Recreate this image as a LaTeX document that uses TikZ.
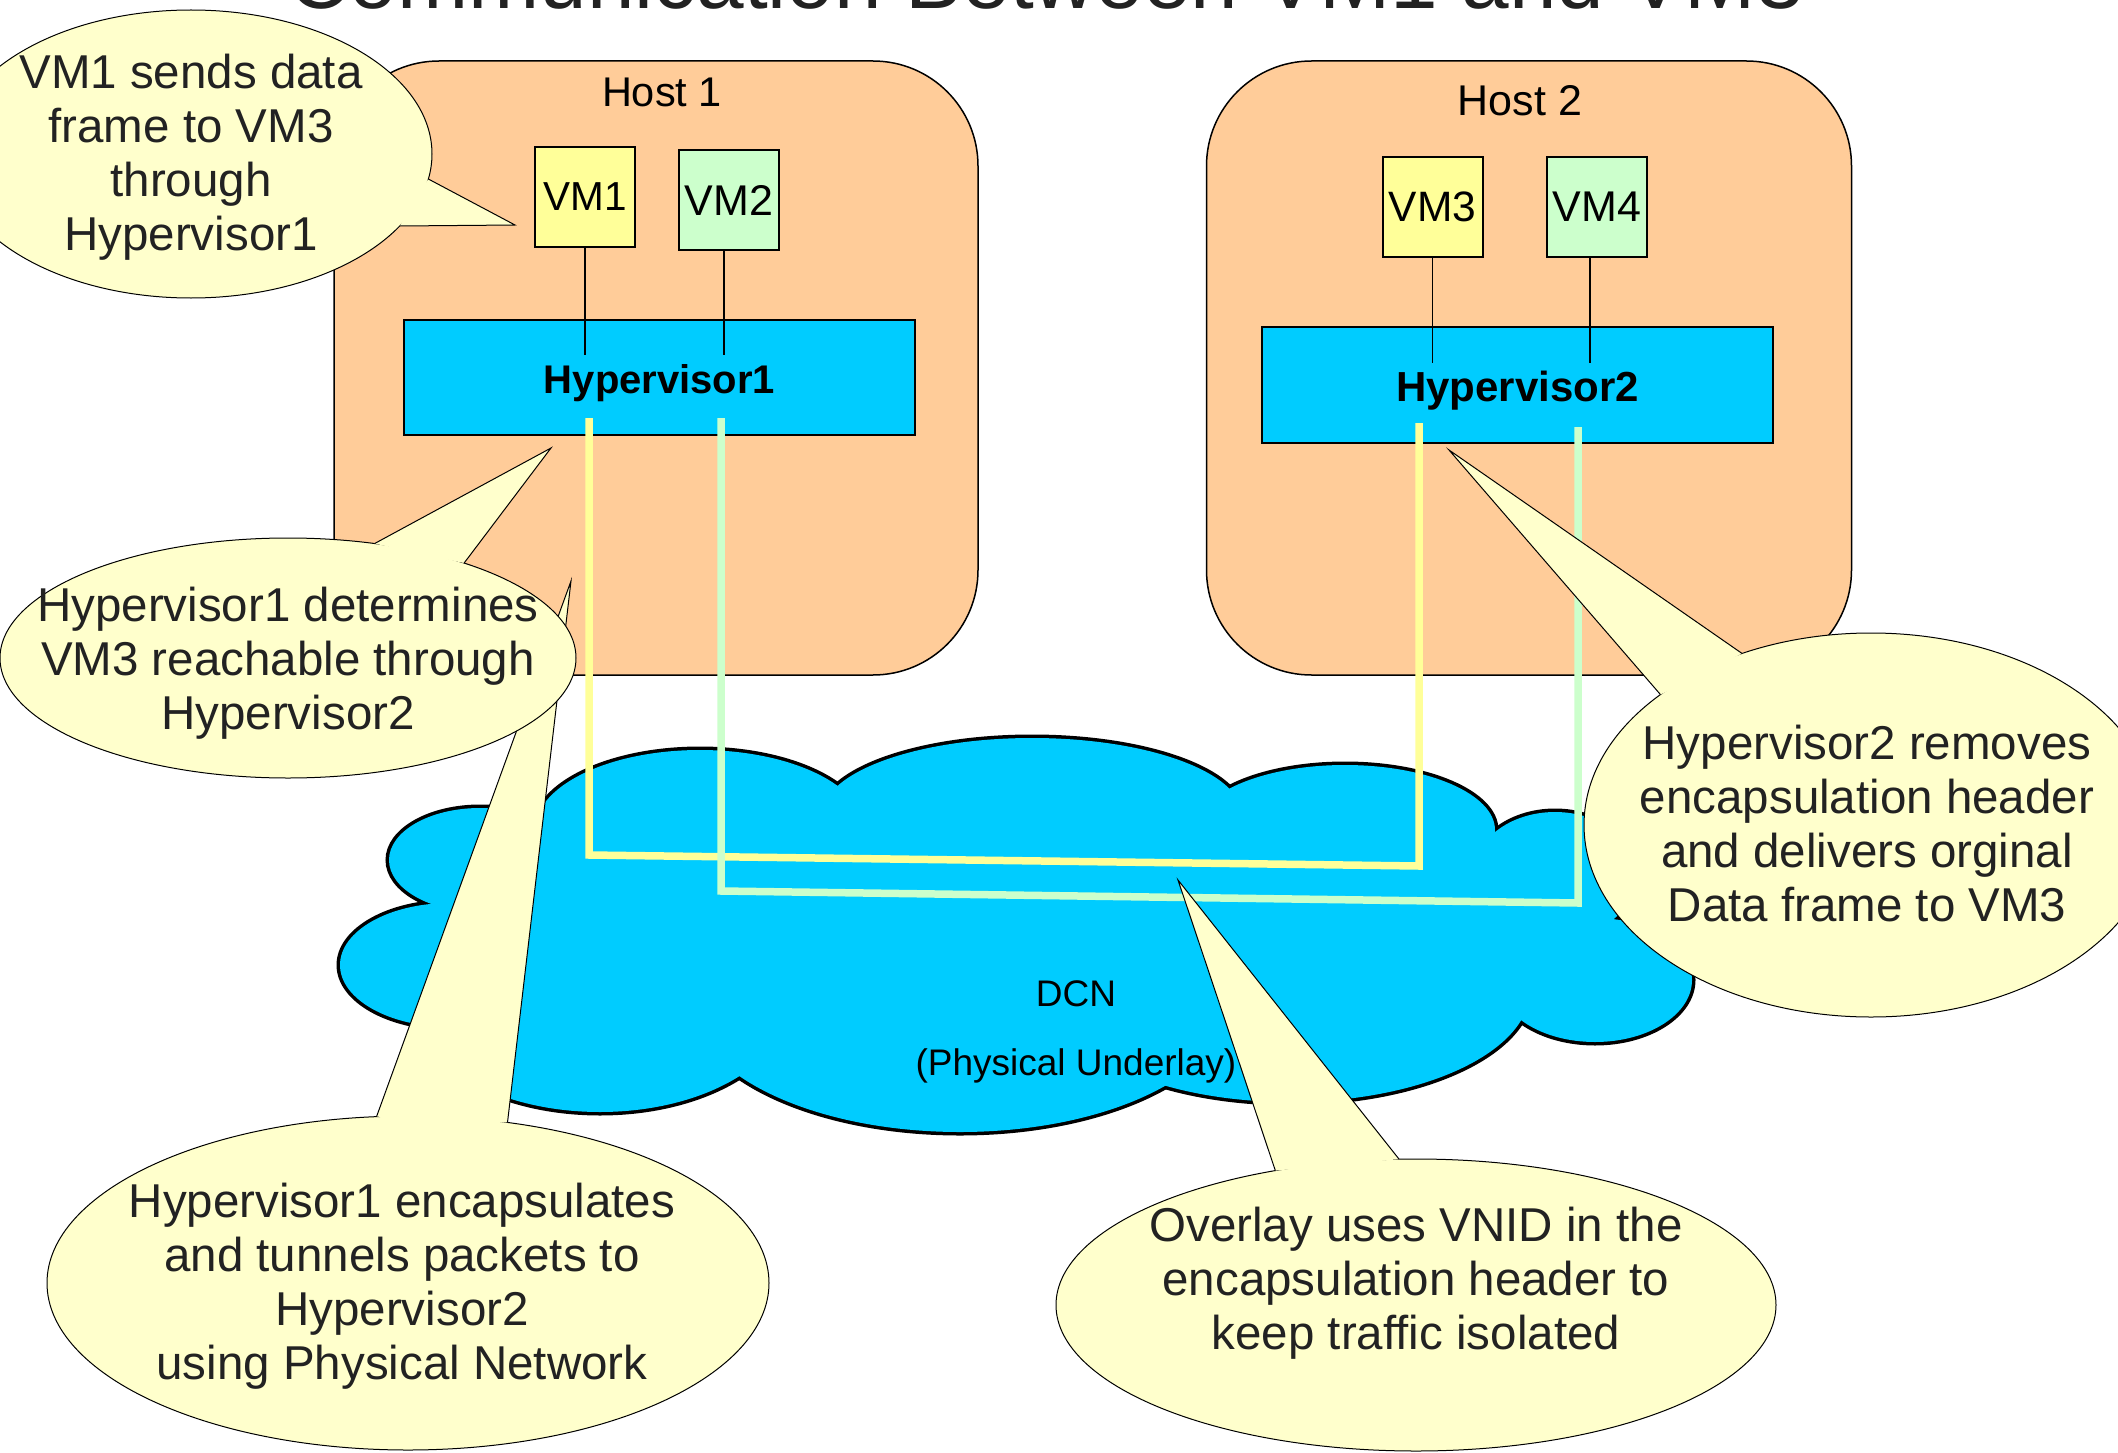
\documentclass[tikz,border=0pt]{standalone}
\usepackage{fontspec}
\setmainfont{Liberation Sans}
\definecolor{hostc}{HTML}{FFCC99}
\definecolor{vmy}{HTML}{FFFF99}
\definecolor{vmg}{HTML}{CCFFCC}
\definecolor{hypc}{HTML}{00CCFF}
\definecolor{calloutc}{HTML}{FFFFCC}
\definecolor{ctextc}{HTML}{222222}
\definecolor{tuny}{HTML}{FFFF99}
\definecolor{tung}{HTML}{CCFFCC}
\newcommand\calloutshape[7]{%
  \filldraw[cshape] (#1,#2) ellipse [x radius=#3, y radius=#4];
  \fill[calloutc] ({#1+#3*cos(#5)},{#2+#4*sin(#5)}) -- #7 -- ({#1+#3*cos(#6)},{#2+#4*sin(#6)}) -- cycle;
  \draw[cedge] ({#1+#3*cos(#5)},{#2+#4*sin(#5)}) -- #7 -- ({#1+#3*cos(#6)},{#2+#4*sin(#6)});
}
\begin{document}
\begin{tikzpicture}[x=1pt,y=-1pt,
  host/.style={draw=black, line width=1.5pt, fill=hostc, rounded corners=105pt, inner sep=0pt},
  hostlabel/.style={anchor=base, inner sep=0pt},
  vmbox/.style={draw=black, line width=2pt, inner sep=0pt, minimum width=100pt, minimum height=100pt},
  hypbox/.style={draw=black, line width=2pt, fill=hypc, inner sep=0pt, minimum width=511pt, minimum height=115pt, text depth=0pt},
  vmline/.style={draw=black, line width=1.5pt},
  tunY/.style={draw=tuny, line width=7.5pt},
  tunG/.style={draw=tung, line width=7.5pt},
  cshape/.style={draw=black, line width=1pt, fill=calloutc},
  cedge/.style={draw=black, line width=1pt, line join=miter},
  ctext/.style={align=center, text=ctextc, inner sep=0pt, font=\fontsize{47.5}{54}\selectfont},
  cloudline/.style={draw=black, line width=7pt},
  cloudfill/.style={fill=hypc}
]
\useasboundingbox (0,0) rectangle (2118,1453);
\clip (0,0) rectangle (2118,1453);

% title
\node[anchor=base, inner sep=0pt, text=ctextc, font=\fontsize{85.5}{100}\selectfont] (title) at (1046,9) {Communication Between VM1 and VM3};

% hosts
\node[host, minimum width=644pt, minimum height=614pt] (host1) at (656,368) {};
\node[host, minimum width=645pt, minimum height=614pt] (host2) at (1529,368) {};
\node[hostlabel, font=\fontsize{41.5}{48}\selectfont] (host1label) at (662,107) {Host 1};
\node[hostlabel, font=\fontsize{43}{50}\selectfont] (host2label) at (1520,116) {Host 2};

% VMs
\node[vmbox, fill=vmy, font=\fontsize{40.5}{48}\selectfont] (vm1) at (585,197) {VM1};
\node[vmbox, fill=vmg, font=\fontsize{43}{50}\selectfont] (vm2) at (729,200) {VM2};
\node[vmbox, fill=vmy, font=\fontsize{42.5}{50}\selectfont] (vm3) at (1432.5,207) {VM3};
\node[vmbox, fill=vmg, font=\fontsize{43}{50}\selectfont] (vm4) at (1597,207) {VM4};

% hypervisors
\node[hypbox, font=\bfseries\fontsize{40}{48}\selectfont] (hyp1) at (659.5,377.5) {\raisebox{-4pt}{Hypervisor1}};
\node[hypbox, minimum height=116pt, font=\bfseries\fontsize{42}{50}\selectfont] (hyp2) at (1517.5,385) {\raisebox{-2pt}{Hypervisor2}};

% VM to hypervisor links
\draw[vmline] (vm1.south) -- ++(0,107);
\draw[vmline] ([xshift=-5pt]vm2.south) -- ++(0,104);
\draw[vmline] (vm3.south) -- ++(0,105);
\draw[vmline] ([xshift=-7pt]vm4.south) -- ++(0,105);

% cloud (DCN)
\foreach \cx/\cy/\rx/\ry in {450/965/110/62, 480/860/91/52, 700/830/165/80, 1032/815/210/77,
  1345/830/150/65, 1555/875/82/63, 1595/980/97/62, 1290/990/240/112, 960/1000/270/132, 600/1000/190/112}
  \draw[cloudline] (\cx,\cy) ellipse [x radius=\rx, y radius=\ry];
\foreach \cx/\cy/\rx/\ry in {450/965/110/62, 480/860/91/52, 700/830/165/80, 1032/815/210/77,
  1345/830/150/65, 1555/875/82/63, 1595/980/97/62, 1290/990/240/112, 960/1000/270/132, 600/1000/190/112,
  1000/950/560/140, 1450/900/80/45}
  \fill[cloudfill] (\cx,\cy) ellipse [x radius=\rx, y radius=\ry];
\node[align=center, inner sep=0pt, font=\fontsize{37}{69}\selectfont] (dcn) at (1076,1032) {DCN\\(Physical Underlay)};

% tunnels
\coordinate (ya) at (589,418);
\coordinate (yb) at (589,855);
\coordinate (yc) at (1419,866);
\coordinate (yd) at (1419,423);
\coordinate (ga) at (721,418);
\coordinate (gb) at (721,891);
\coordinate (gc) at (1578,903);
\coordinate (gd) at (1578,427);
\draw[tunY] (ya) -- (yb) -- (yc) -- (yd);
\draw[tunG] (ga) -- (gb) -- (gc) -- (gd);

% callouts
\calloutshape{191}{154}{241}{144}{10}{30}{(515,225)}
\node[ctext] (c1text) at (191,157) {VM1 sends data\\frame to VM3\\through\\Hypervisor1};

\calloutshape{408}{1283}{361}{167}{-95}{-74}{(571,581)}
\node[ctext] (c3text) at (402,1286) {Hypervisor1 encapsulates\\and tunnels packets to\\Hypervisor2\\using Physical Network};

\calloutshape{288}{658}{288}{120}{-72.5}{-52.3}{(551,448)}
\node[ctext] (c2text) at (288,663) {Hypervisor1 determines\\VM3 reachable through\\Hypervisor2};

\calloutshape{1871}{825}{287}{192}{-137.2}{-116.7}{(1449,450)}
\node[ctext] (c4text) at (1867,824) {Hypervisor2 removes\\encapsulation header\\and delivers orginal\\Data frame to VM3};

\calloutshape{1416}{1305}{360}{146}{-113}{-92.7}{(1178,880)}
\node[ctext] (c5text) at (1416,1283) {Overlay uses VNID in the\\encapsulation header to\\keep traffic isolated};
\end{tikzpicture}
\end{document}
